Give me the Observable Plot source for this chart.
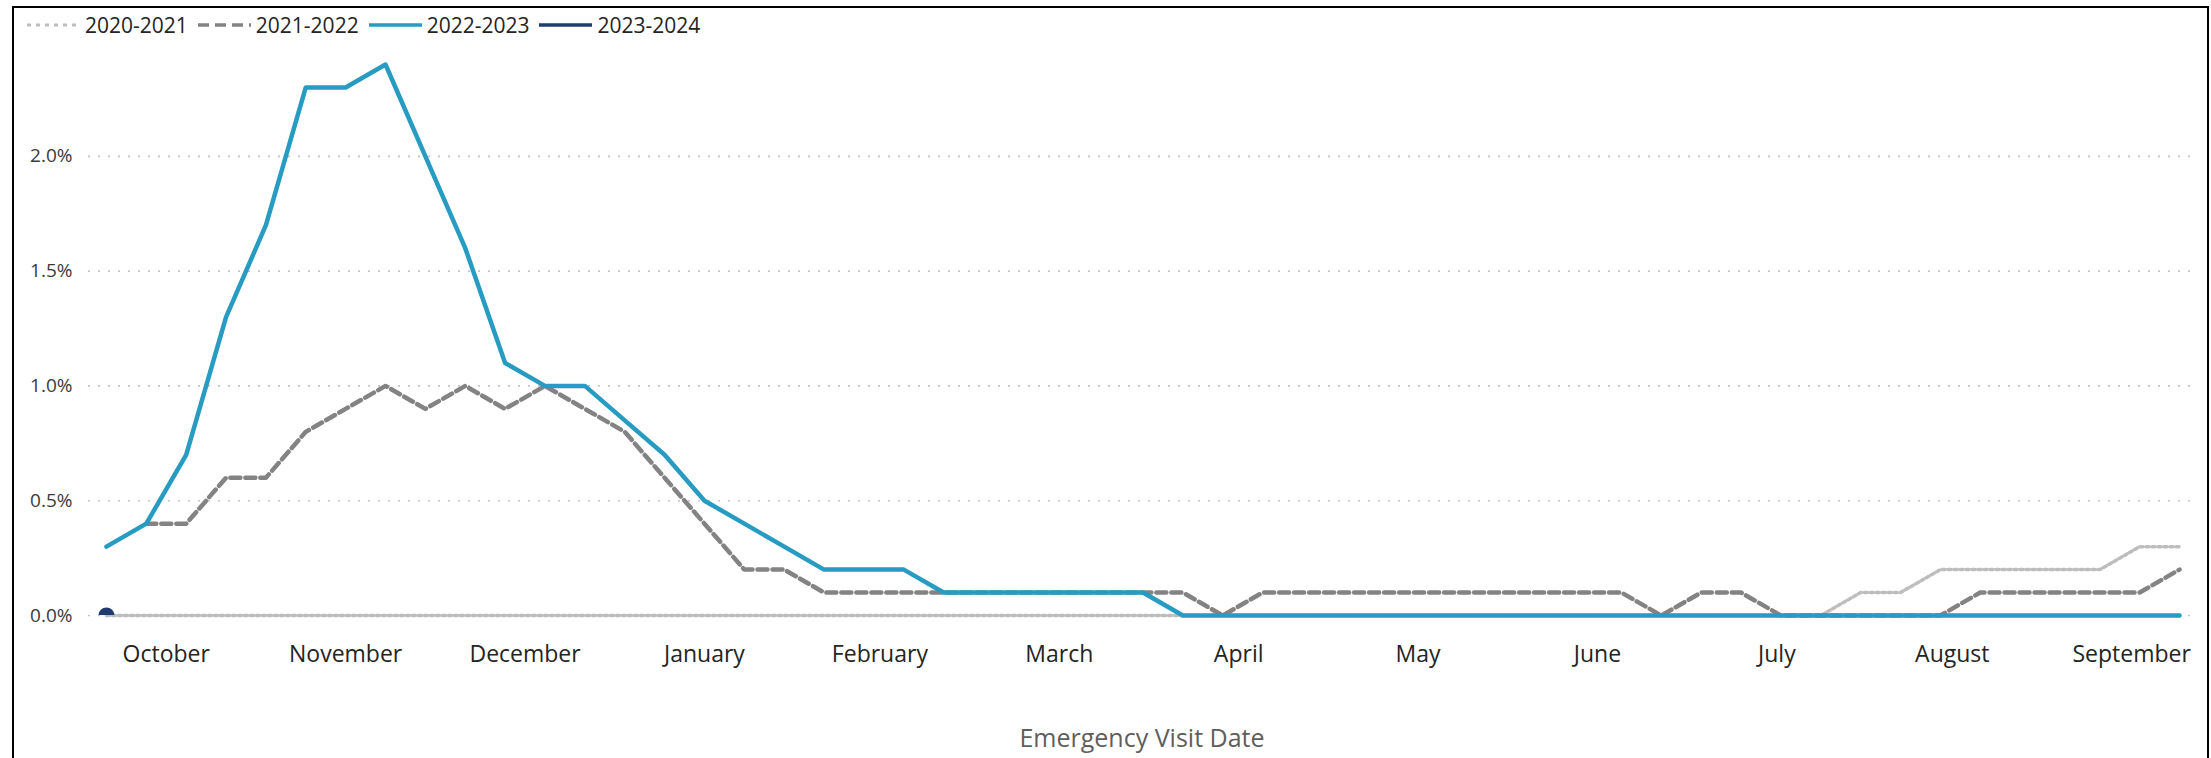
<!DOCTYPE html>
<html>
<head>
<meta charset="utf-8">
<script src="https://cdn.jsdelivr.net/npm/d3@7"></script>
<script src="https://cdn.jsdelivr.net/npm/@observablehq/plot@0.6"></script>
<style>
  html, body { margin: 0; padding: 0; background: #fff; overflow: hidden; width: 2211px; height: 758px; }
  body { position: relative; font-family: "Segoe UI", "Open Sans", "Noto Sans", sans-serif; }
  #frame { position: absolute; left: 12px; top: 6px; width: 2197px; height: 820px; border: 2px solid #000; box-sizing: border-box; pointer-events: none; z-index: 2; }
  #legend { position: relative; height: 44px; box-sizing: border-box; padding-top: 6px; padding-left: 27px; display: flex; align-items: center; font-size: 21px; color: #252423; }
  .item { display: flex; align-items: center; margin-right: 10px; }
  .item svg { margin-right: 5px; }
  .item span { line-height: 1; }
  #chart svg { display: block; }
</style>
</head>
<body>
<div id="frame"></div>
<div id="legend"></div>
<div id="chart"></div>
<script>
// ---- data ----
const weeks = [0,1,2,3,4,5,6,7,8,9,10,11,12,13,14,15,16,17,18,19,20,21,22,23,24,25,26,27,28,29,30,31,32,33,34,35,36,37,38,39,40,41,42,43,44,45,46,47,48,49,50,51,52];

const seasons = ["2020-2021", "2021-2022", "2022-2023", "2023-2024"];

const v2020_2021 = [0,0,0,0,0,0,0,0,0,0,0,0,0,0,0,0,0,0,0,0,0,0,0,0,0,0,0,0,0,0,0,0,0,0,0,0,0,0,0,0,0,0,0,0,0.1,0.1,0.2,0.2,0.2,0.2,0.2,0.3,0.3];
const v2021_2022 = [null,0.4,0.4,0.6,0.6,0.8,0.9,1.0,0.9,1.0,0.9,1.0,0.9,0.8,0.6,0.4,0.2,0.2,0.1,0.1,0.1,0.1,0.1,0.1,0.1,0.1,0.1,0.1,0,0.1,0.1,0.1,0.1,0.1,0.1,0.1,0.1,0.1,0.1,0,0.1,0.1,0,0,0,0,0,0.1,0.1,0.1,0.1,0.1,0.2];
const v2022_2023 = [0.3,0.4,0.7,1.3,1.7,2.3,2.3,2.4,2.0,1.6,1.1,1.0,1.0,0.85,0.7,0.5,0.4,0.3,0.2,0.2,0.2,0.1,0.1,0.1,0.1,0.1,0.1,0,0,0,0,0,0,0,0,0,0,0,0,0,0,0,0,0,0,0,0,0,0,0,0,0,0];
const v2023_2024 = [0];

const yTicks = [0, 0.5, 1.0, 1.5, 2.0];
const monthNames = ["October","November","December","January","February","March","April","May","June","July","August","September"];
const monthTickWeeks = [1.5, 6, 10.5, 15, 19.4, 23.9, 28.4, 32.9, 37.4, 41.9, 46.3, 50.8];

const xTitle = "Emergency Visit Date";

// ---- styles ----
const styles = {
  "2020-2021": {stroke: "#bdbdbd", strokeWidth: 3.5, dash: "3,3", legendDash: "4,5"},
  "2021-2022": {stroke: "#838383", strokeWidth: 4.5, dash: "10,5", legendDash: "11,6"},
  "2022-2023": {stroke: "#279bc1", strokeWidth: 4.5, dash: null, legendDash: null},
  "2023-2024": {stroke: "#1f3b6f", strokeWidth: 4.5, dash: null, legendDash: null}
};

const rows = (vals) => vals.map((v, i) => ({week: weeks[i], value: v}));
const r2020 = rows(v2020_2021);
const r2021 = rows(v2021_2022);
const r2022 = rows(v2022_2023);
const r2023 = rows(v2023_2024);

// ---- legend ----
const legend = document.getElementById("legend");
for (const s of seasons) {
  const st = styles[s];
  const item = document.createElement("div");
  item.className = "item";
  item.innerHTML = `<svg width="53" height="8"><line x1="0" x2="53" y1="4" y2="4" stroke="${st.stroke}" stroke-width="${s === "2020-2021" ? 3 : 3.5}" ${st.legendDash ? `stroke-dasharray="${st.legendDash}"` : ""}/></svg><span>${s}</span>`;
  legend.appendChild(item);
}

const monthLabel = new Map(monthTickWeeks.map((w, i) => [w, monthNames[i]]));

const chart = Plot.plot({
  width: 2211,
  height: 714,
  marginTop: 20,
  marginBottom: 143,
  marginLeft: 88,
  marginRight: 16,
  x: {domain: [-0.45, 52.4]},
  y: {domain: [0, 2.4]},
  style: {fontFamily: '"Segoe UI", "Open Sans", "Noto Sans", sans-serif', background: "transparent", overflow: "visible"},
  marks: [
    Plot.gridY(yTicks, {stroke: "#c8c6c4", strokeOpacity: 1, strokeWidth: 1.6, strokeDasharray: "2,8"}),
    Plot.axisY(yTicks, {tickSize: 0, tickPadding: 16, tickFormat: d => d.toFixed(1) + "%", fontSize: 19, fill: "#3b3a39", label: null}),
    Plot.axisX(monthTickWeeks, {tickSize: 0, tickPadding: 30, tickFormat: d => monthLabel.get(d), fontSize: 23, fill: "#252423", label: null}),
    Plot.line(r2020, {x: "week", y: "value", stroke: styles["2020-2021"].stroke, strokeWidth: styles["2020-2021"].strokeWidth, strokeDasharray: styles["2020-2021"].dash, strokeLinejoin: "round"}),
    Plot.line(r2021, {x: "week", y: "value", stroke: styles["2021-2022"].stroke, strokeWidth: styles["2021-2022"].strokeWidth, strokeDasharray: styles["2021-2022"].dash, strokeLinejoin: "round"}),
    Plot.line(r2022, {x: "week", y: "value", stroke: styles["2022-2023"].stroke, strokeWidth: styles["2022-2023"].strokeWidth, strokeLinejoin: "round"}),
    Plot.dot(r2023, {x: "week", y: "value", r: 8, fill: styles["2023-2024"].stroke, stroke: null, clip: true}),
    Plot.text([xTitle], {frameAnchor: "bottom", dy: 123, lineAnchor: "middle", fontSize: 25, fill: "#605e5c", text: d => d})
  ]
});
document.getElementById("chart").appendChild(chart);
</script>
</body>
</html>
